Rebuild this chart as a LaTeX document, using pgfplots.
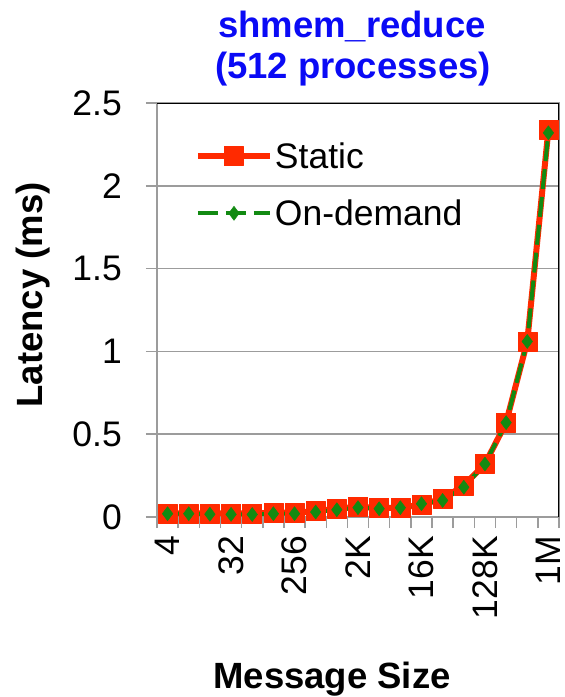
\documentclass[border=0pt]{standalone}
\usepackage{fontspec}
\setmainfont{Liberation Sans}
\usepackage{pgfplots}
\pgfplotsset{compat=1.18}
\definecolor{sred}{HTML}{FF2A00}
\definecolor{sgreen}{HTML}{128A12}
\definecolor{tblue}{HTML}{0A0AF5}
\definecolor{gridgray}{HTML}{9C9C9C}
\begin{document}
\begin{tikzpicture}[x=1pt,y=1pt]
\path[use as bounding box] (0,0) rectangle (565,-697);
\begin{axis}[
  at={(157pt,-517pt)}, anchor=south west,
  scale only axis, width=402pt, height=414pt,
  xmin=-0.5, xmax=18.5, ymin=0, ymax=2.5,
  xtick={-0.5,0.5,1.5,2.5,3.5,4.5,5.5,6.5,7.5,8.5,9.5,10.5,11.5,12.5,13.5,14.5,15.5,16.5,17.5,18.5},
  xticklabels={},
  extra x ticks={0,3,6,9,12,15,18},
  extra x tick labels={4,32,256,2K,16K,128K,1M},
  extra x tick style={major tick length=0pt, tick style={draw=none}},
  ytick={0,0.5,1,1.5,2,2.5},
  /pgf/number format/assume math mode=true,
  tick label style={font=\fontsize{35.5}{40}\selectfont, black},
  xticklabel style={anchor=east, inner sep=0pt, yshift=-19pt, rotate=90},
  yticklabel style={anchor=east, inner sep=0pt, xshift=-24pt},
  tick pos=left, tick align=outside, major tick length=11pt,
  tick style={draw=gridgray, line width=1.5pt},
  axis line style={draw=gridgray, line width=1.5pt},
  ymajorgrids, major grid style={draw=gridgray, line width=1.5pt},
  legend style={at={(0.094,0.91)}, anchor=north west, draw=none, fill=none,
    font=\fontsize{35.5}{40}\selectfont, row sep=26pt, inner sep=0pt},
  legend cell align=left,
  legend image code/.code={\draw[mark repeat=2,mark phase=2,#1] plot coordinates {(0pt,0pt) (36pt,0pt) (72pt,0pt)};},
]
\addplot[color=sred, line width=6pt, line join=round, mark=square*, mark size=9.5pt,
  mark options={solid, fill=sred, draw=sred, line width=0.5pt}]
  coordinates {(0,0.022) (1,0.022) (2,0.022) (3,0.022) (4,0.022) (5,0.026) (6,0.026)
   (7,0.036) (8,0.050) (9,0.062) (10,0.055) (11,0.056) (12,0.075) (13,0.11)
   (14,0.19) (15,0.32) (16,0.57) (17,1.06) (18,2.34)};
\addlegendentry{Static}
\addplot[color=sgreen, line width=4pt, dash pattern=on 20pt off 8pt, mark=diamond*, mark size=7pt,
  mark options={solid, fill=sgreen, draw=sgreen, line width=0.5pt}]
  coordinates {(0,0.020) (1,0.020) (2,0.017) (3,0.016) (4,0.015) (5,0.020) (6,0.020)
   (7,0.030) (8,0.044) (9,0.056) (10,0.050) (11,0.056) (12,0.080) (13,0.10)
   (14,0.18) (15,0.32) (16,0.57) (17,1.06) (18,2.32)};
\addlegendentry{On-demand}
\draw[black, line width=1.5pt] (rel axis cs:0,1) -- (rel axis cs:1,1) -- (rel axis cs:1,0);
\end{axis}
\node[anchor=base, text=tblue, font=\bfseries\fontsize{36.5}{40}\selectfont] at (352,-37) {shmem\_reduce};
\node[anchor=base, text=tblue, font=\bfseries\fontsize{36.5}{40}\selectfont] at (353,-78) {(512 processes)};
\node[rotate=90, font=\bfseries\fontsize{36.5}{40}\selectfont] at (33,-295) {Latency (ms)};
\node[anchor=base, font=\bfseries\fontsize{36.5}{40}\selectfont] at (332,-688) {Message Size};
\end{tikzpicture}
\end{document}
